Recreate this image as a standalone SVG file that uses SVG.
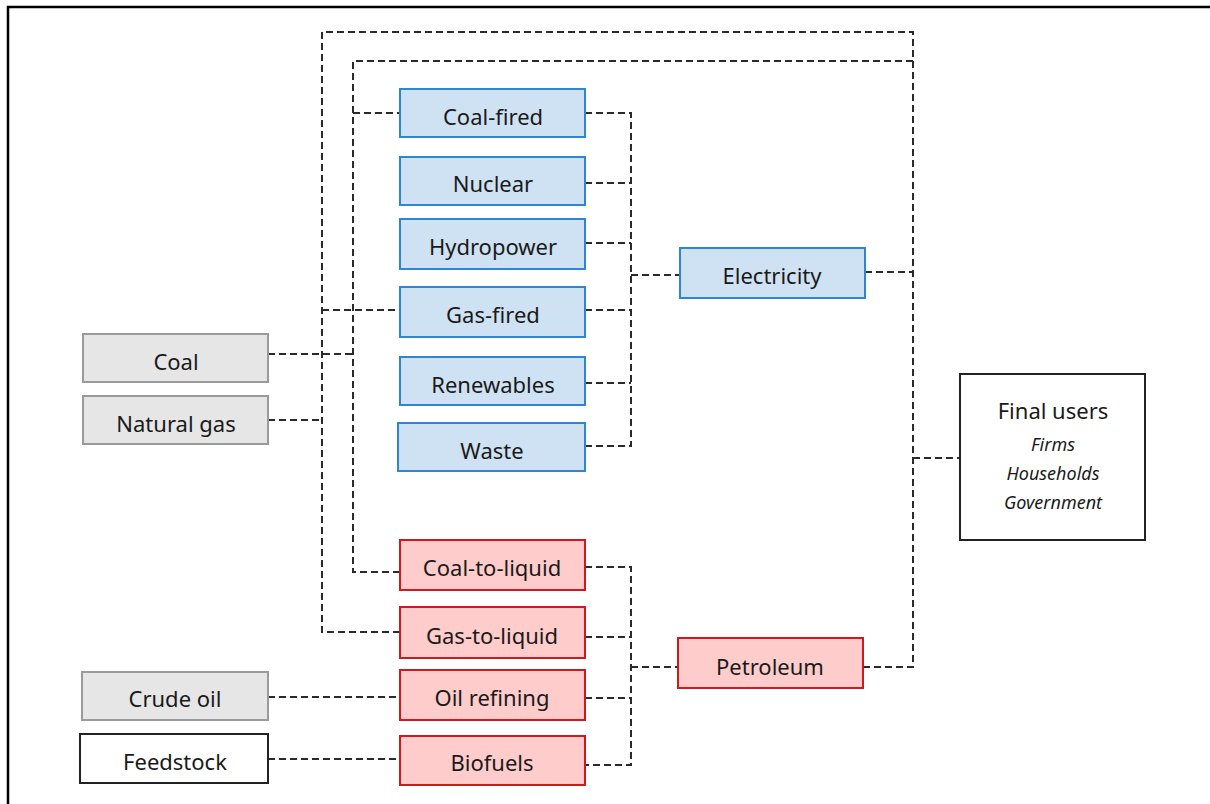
<svg xmlns="http://www.w3.org/2000/svg" width="1210" height="804" viewBox="0 0 1210 804">
<style>
text{font-family:"Noto Sans","Liberation Sans",sans-serif;font-size:22px;fill:#1a1a1a;text-anchor:middle;dominant-baseline:central}
.blue rect{fill:#cfe2f3;stroke:#2e86d1;stroke-width:2}
.red rect{fill:#ffcccc;stroke:#d0191f;stroke-width:2}
.gray rect{fill:#e6e6e6;stroke:#9a9a9a;stroke-width:2}
.plain rect{fill:#fff;stroke:#222;stroke-width:2}
.conn path{fill:none;stroke:#2a2a2a;stroke-width:2;stroke-dasharray:7 4}
.it{font-style:italic;font-size:18px}
</style>
<rect width="1210" height="804" fill="#fff"/>
<path d="M8 804 V7 H1210" fill="none" stroke="#000" stroke-width="2.5"/>
<g class="conn">
<path d="M400 632 H322 V32 H913 V667 H863"/>
<path d="M268 420 H322"/>
<path d="M322 310 H400"/>
<path d="M400 572 H353 V61 H913"/>
<path d="M268 354 H353"/>
<path d="M353 113 H400"/>
<path d="M585 113 H631 V446 H585"/>
<path d="M585 183 H631"/>
<path d="M585 243 H631"/>
<path d="M585 310 H631"/>
<path d="M585 383 H631"/>
<path d="M631 275 H680"/>
<path d="M865 272 H913"/>
<path d="M913 458 H960"/>
<path d="M585 567 H631 V765 H585"/>
<path d="M585 637 H631"/>
<path d="M585 698 H631"/>
<path d="M631 667 H678"/>
<path d="M268 697 H400"/>
<path d="M268 759 H400"/>
</g>
<g id="coal-fired" class="blue"><rect x="400" y="89" width="185" height="48"/><text x="493" y="116">Coal-fired</text></g>
<g id="nuclear" class="blue"><rect x="400" y="157" width="185" height="48"/><text x="493" y="183">Nuclear</text></g>
<g id="hydropower" class="blue"><rect x="400" y="219" width="185" height="50"/><text x="493" y="246">Hydropower</text></g>
<g id="gas-fired" class="blue"><rect x="400" y="287" width="185" height="50"/><text x="493" y="314">Gas-fired</text></g>
<g id="renewables" class="blue"><rect x="400" y="357" width="185" height="48"/><text x="493" y="384">Renewables</text></g>
<g id="waste" class="blue"><rect x="398" y="423" width="187" height="48"/><text x="492" y="450">Waste</text></g>
<g id="electricity" class="blue"><rect x="680" y="248" width="185" height="50"/><text x="772" y="275">Electricity</text></g>
<g id="coal" class="gray"><rect x="83" y="334" width="185" height="48"/><text x="176" y="361">Coal</text></g>
<g id="natural-gas" class="gray"><rect x="83" y="396" width="185" height="48"/><text x="176" y="423">Natural gas</text></g>
<g id="crude-oil" class="gray"><rect x="82" y="672" width="186" height="48"/><text x="175" y="698">Crude oil</text></g>
<g id="feedstock" class="plain"><rect x="80" y="734" width="188" height="49"/><text x="175" y="761">Feedstock</text></g>
<g id="coal-to-liquid" class="red"><rect x="400" y="540" width="185" height="50"/><text x="492" y="567">Coal-to-liquid</text></g>
<g id="gas-to-liquid" class="red"><rect x="400" y="607" width="185" height="51"/><text x="492" y="635">Gas-to-liquid</text></g>
<g id="oil-refining" class="red"><rect x="400" y="670" width="185" height="50"/><text x="492" y="697">Oil refining</text></g>
<g id="biofuels" class="red"><rect x="400" y="736" width="185" height="49"/><text x="492" y="762">Biofuels</text></g>
<g id="petroleum" class="red"><rect x="678" y="638" width="185" height="50"/><text x="770" y="666">Petroleum</text></g>
<g id="final-users" class="plain"><rect x="960" y="374" width="185" height="166"/>
<text x="1053" y="410">Final users</text>
<text class="it" x="1053" y="444">Firms</text>
<text class="it" x="1053" y="473">Households</text>
<text class="it" x="1053" y="502">Government</text></g>
</svg>
